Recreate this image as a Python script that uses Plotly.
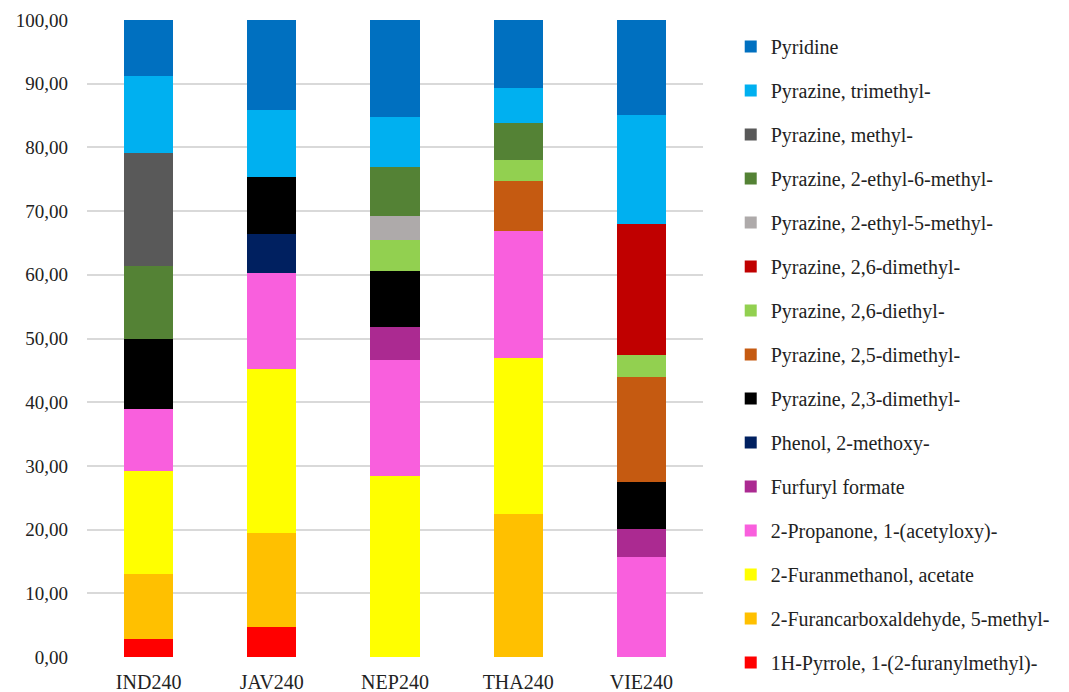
import plotly.graph_objects as go

categories = ["IND240", "JAV240", "NEP240", "THA240", "VIE240"]

# series in stacking order (bottom to top)
series_names = [
    "1H-Pyrrole, 1-(2-furanylmethyl)-",
    "2-Furancarboxaldehyde, 5-methyl-",
    "2-Furanmethanol, acetate",
    "2-Propanone, 1-(acetyloxy)-",
    "Furfuryl formate",
    "Phenol, 2-methoxy-",
    "Pyrazine, 2,3-dimethyl-",
    "Pyrazine, 2,5-dimethyl-",
    "Pyrazine, 2,6-diethyl-",
    "Pyrazine, 2,6-dimethyl-",
    "Pyrazine, 2-ethyl-5-methyl-",
    "Pyrazine, 2-ethyl-6-methyl-",
    "Pyrazine, methyl-",
    "Pyrazine, trimethyl-",
    "Pyridine",
]

pyrrole      = [2.8, 4.7, 0, 0, 0]
furancarbox  = [10.2, 14.7, 0, 22.5, 0]
furanmethan  = [16.2, 25.8, 28.4, 24.4, 0]
propanone    = [9.7, 15.1, 18.2, 20.0, 15.7]
furfuryl     = [0, 0, 5.2, 0, 4.4]
phenol       = [0, 6.1, 0, 0, 0]
dimethyl23   = [11.1, 9.0, 8.8, 0, 7.4]
dimethyl25   = [0, 0, 0, 7.9, 16.5]
diethyl26    = [0, 0, 4.8, 3.2, 3.4]
dimethyl26   = [0, 0, 0, 0, 20.6]
ethyl5methyl = [0, 0, 3.8, 0, 0]
ethyl6methyl = [11.4, 0, 7.7, 5.8, 0]
methyl       = [17.8, 0, 0, 0, 0]
trimethyl    = [12.0, 10.5, 7.9, 5.6, 17.1]
pyridine     = [8.8, 14.1, 15.2, 10.6, 14.9]

series_values = [pyrrole, furancarbox, furanmethan, propanone, furfuryl, phenol,
                 dimethyl23, dimethyl25, diethyl26, dimethyl26, ethyl5methyl,
                 ethyl6methyl, methyl, trimethyl, pyridine]

colors = ["#FF0000", "#FFC000", "#FFFF00", "#F95FDD", "#AB2A91", "#002060",
          "#000000", "#C55A11", "#92D050", "#C00000", "#AEAAAA",
          "#548235", "#595959", "#00B0F0", "#0070C0"]

y_ticks = [0, 10, 20, 30, 40, 50, 60, 70, 80, 90, 100]

serif = "'Liberation Serif', 'Times New Roman', 'DejaVu Serif', serif"

fig = go.Figure()
n = len(series_names)
for i, (name, vals, col) in enumerate(zip(series_names, series_values, colors)):
    fig.add_trace(go.Bar(
        x=categories, y=vals, name=name,
        marker=dict(color=col, line=dict(width=0)),
        legendgroup=name,
        legendrank=n - i,
    ))

fig.update_layout(
    barmode="stack",
    bargap=0.6,
    width=1061, height=684,
    margin=dict(l=79, r=366, t=12, b=35, autoexpand=False),
    plot_bgcolor="white",
    paper_bgcolor="white",
    separators=", ",
    font=dict(family=serif, size=19, color="#222222"),
    xaxis=dict(showline=False, ticks="", showgrid=False,
               ticklabelstandoff=11, tickfont=dict(family=serif, size=20)),
    yaxis=dict(range=[0, 100], tickvals=y_ticks, tickformat=".2f",
               showgrid=True, gridcolor="#D9D9D9", gridwidth=1.5,
               zeroline=False, showline=False, ticks="",
               ticklabelstandoff=18, tickfont=dict(family=serif, size=19)),
    legend=dict(
        x=1.045, y=0.989, xanchor="left", yanchor="top",
        traceorder="grouped",
        tracegroupgap=15,
        font=dict(family=serif, size=20),
        itemwidth=30,
        maxheight=1000,
    ),
    showlegend=True,
)

fig.write_html("out.html")
